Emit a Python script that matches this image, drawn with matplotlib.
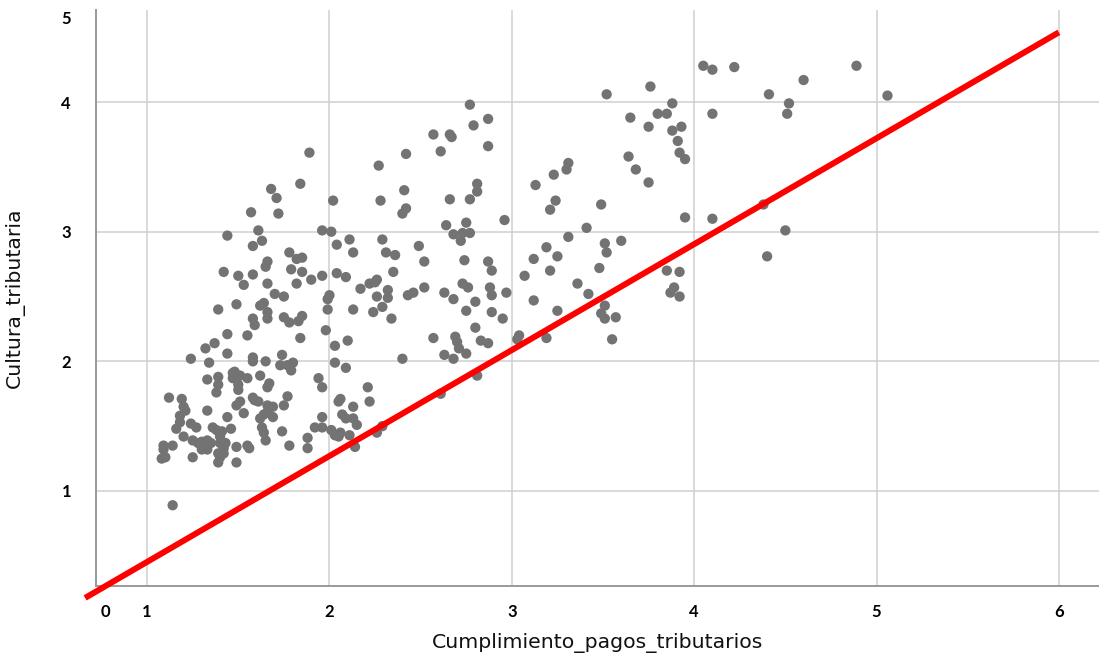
import matplotlib.pyplot as plt

# scatter values
cumplimiento = [
    1.44, 1.55, 1.84, 1.98, 2.03, 1.37, 1.32, 1.24, 1.44, 1.34,
    1.58, 1.58, 1.65, 1.74, 1.73, 1.77, 1.80, 1.79, 2.03, 1.94,
    1.96, 1.39, 1.33, 1.39, 1.38, 1.47, 1.48, 1.51, 1.55, 1.47,
    1.62, 1.67, 1.66, 1.50, 1.50, 1.12, 1.19, 1.20, 1.21, 1.18,
    1.18, 1.16, 1.20, 1.33, 1.51, 1.49, 1.53, 1.58, 1.59, 1.61,
    1.66, 1.69, 1.66, 1.64, 1.62, 1.69, 1.77, 1.75, 1.44, 1.24,
    1.27, 1.36, 1.38, 1.41, 1.40, 1.46, 1.25, 1.28, 1.30, 1.31,
    1.33, 1.35, 1.09, 1.09, 1.08, 1.10, 1.14, 1.25, 1.30, 1.33,
    1.40, 1.42, 1.43, 1.39, 1.40, 1.42, 1.39, 1.49, 1.49, 1.55,
    1.56, 1.63, 1.64, 1.65, 1.74, 1.78, 1.88, 1.88, 1.92, 1.96,
    1.96, 2.01, 2.03, 2.05, 1.14,
    1.89, 1.84, 1.68, 1.71, 2.02, 1.57, 1.72, 1.61, 1.44, 1.96,
    2.01, 1.63, 1.58, 2.04, 1.78, 1.82, 1.85, 1.66, 1.65, 1.42,
    1.50, 1.53, 1.58, 1.66, 1.79, 1.85, 1.82, 1.90, 1.96, 2.04,
    1.70, 1.75, 1.39, 1.49, 1.62, 1.64, 1.66, 1.66, 1.58, 1.59,
    1.75, 1.78, 1.83, 1.85, 1.99, 2.00, 1.99,
    2.77, 2.79, 2.87, 2.57, 2.66, 2.67, 2.87, 2.61, 2.42, 2.27,
    2.28, 2.41, 2.42, 2.40, 2.66, 2.77, 2.81, 2.81, 2.96, 2.64,
    2.75, 2.68, 2.73, 2.77, 2.72, 2.11, 2.13, 2.29, 2.31, 2.36,
    2.49, 2.52, 2.74, 2.87, 2.89, 2.09, 2.26, 2.35,
    2.17, 2.22, 2.25, 2.32, 2.32, 2.26, 2.29, 2.24, 2.13, 2.34,
    2.43, 2.46, 2.52, 2.63, 2.68, 2.73, 2.76, 2.75, 2.80, 2.88,
    2.89, 2.97, 2.89, 2.95, 2.10, 2.09, 2.40, 2.57, 2.69, 2.70,
    2.71, 2.75, 2.63, 2.68, 2.80, 2.83, 2.87, 3.04, 3.03, 2.81,
    2.61, 2.21, 2.22, 2.06, 2.13, 2.07, 2.09, 2.13, 2.15, 2.05,
    2.06, 2.11, 2.14, 2.26, 2.29,
    3.52, 3.88, 3.80, 3.85, 3.65, 3.75, 3.88, 3.93, 3.91, 3.92,
    3.95, 3.64, 3.68, 3.75, 3.31, 3.30, 3.23, 3.13, 3.24, 3.21,
    3.49, 3.95, 3.41, 3.31, 3.51, 3.52, 3.60, 3.19, 3.25, 3.12,
    3.21, 3.48, 3.07, 3.36, 3.85, 3.92, 3.89, 3.87, 3.92, 3.12,
    3.42, 3.25, 3.51, 3.49, 3.51, 3.57, 3.19, 3.55, 3.76,
    4.05, 4.10, 4.22, 4.89, 4.60, 4.41, 4.52, 4.51, 4.10, 5.06,
    4.38, 4.10, 4.50, 4.40,
]
cultura = [
    2.21, 2.20, 2.18, 2.24, 2.12, 2.14, 2.10, 2.02, 2.06, 1.99,
    2.03, 2.00, 2.00, 2.05, 1.97, 1.97, 1.99, 1.93, 1.99, 1.87,
    1.80, 1.88, 1.86, 1.82, 1.76, 1.91, 1.92, 1.89, 1.87, 1.87,
    1.89, 1.83, 1.80, 1.82, 1.78, 1.72, 1.71, 1.65, 1.62, 1.58,
    1.53, 1.48, 1.42, 1.62, 1.69, 1.66, 1.60, 1.72, 1.70, 1.69,
    1.66, 1.65, 1.61, 1.59, 1.56, 1.57, 1.73, 1.66, 1.57, 1.52,
    1.49, 1.49, 1.47, 1.46, 1.42, 1.48, 1.39, 1.37, 1.38, 1.34,
    1.39, 1.37, 1.35, 1.32, 1.25, 1.26, 1.35, 1.26, 1.32, 1.32,
    1.37, 1.33, 1.37, 1.29, 1.26, 1.29, 1.22, 1.22, 1.34, 1.35,
    1.33, 1.49, 1.45, 1.39, 1.46, 1.35, 1.41, 1.33, 1.49, 1.57,
    1.49, 1.47, 1.43, 1.69, 0.89,
    3.61, 3.37, 3.33, 3.26, 3.24, 3.15, 3.14, 3.01, 2.97, 3.01,
    3.00, 2.93, 2.89, 2.90, 2.84, 2.79, 2.80, 2.77, 2.73, 2.69,
    2.66, 2.59, 2.67, 2.60, 2.71, 2.69, 2.60, 2.63, 2.66, 2.68,
    2.52, 2.50, 2.40, 2.44, 2.43, 2.45, 2.38, 2.33, 2.33, 2.28,
    2.34, 2.30, 2.31, 2.35, 2.40, 2.51, 2.48,
    3.98, 3.82, 3.87, 3.75, 3.75, 3.73, 3.66, 3.62, 3.60, 3.51,
    3.24, 3.32, 3.18, 3.14, 3.25, 3.25, 3.37, 3.31, 3.09, 3.05,
    3.07, 2.98, 2.99, 2.99, 2.93, 2.94, 2.84, 2.94, 2.84, 2.82,
    2.89, 2.77, 2.78, 2.77, 2.70, 2.65, 2.63, 2.69,
    2.56, 2.60, 2.61, 2.55, 2.49, 2.50, 2.42, 2.38, 2.40, 2.33,
    2.51, 2.53, 2.57, 2.53, 2.48, 2.60, 2.57, 2.39, 2.46, 2.57,
    2.51, 2.53, 2.38, 2.33, 2.16, 1.95, 2.02, 2.18, 2.19, 2.15,
    2.10, 2.06, 2.05, 2.02, 2.26, 2.16, 2.14, 2.20, 2.17, 1.89,
    1.75, 1.80, 1.69, 1.71, 1.65, 1.59, 1.56, 1.56, 1.51, 1.42,
    1.45, 1.43, 1.34, 1.45, 1.50,
    4.06, 3.99, 3.91, 3.91, 3.88, 3.81, 3.78, 3.81, 3.70, 3.61,
    3.56, 3.58, 3.48, 3.38, 3.53, 3.48, 3.44, 3.36, 3.24, 3.17,
    3.21, 3.11, 3.03, 2.96, 2.91, 2.84, 2.93, 2.88, 2.81, 2.79,
    2.70, 2.72, 2.66, 2.60, 2.70, 2.69, 2.57, 2.53, 2.50, 2.47,
    2.52, 2.39, 2.43, 2.37, 2.33, 2.34, 2.18, 2.17, 4.12,
    4.28, 4.25, 4.27, 4.28, 4.17, 4.06, 3.99, 3.91, 3.91, 4.05,
    3.21, 3.10, 3.01, 2.81,
]

# red reference line y = a + b*x
line_a = -0.364
line_b = 0.817
line_x = [0.66, 6.0]
line_y = [line_a + line_b * v for v in line_x]

x_ticks = [0.77, 1, 2, 3, 4, 5, 6]
x_labels = ['0', '1', '2', '3', '4', '5', '6']
y_ticks = [1, 2, 3, 4, 4.65]
y_labels = ['1', '2', '3', '4', '5']

fig = plt.figure(figsize=(10.99, 6.56), dpi=100)
ax = fig.add_axes([0.0874, 0.1067, 0.9126, 0.878])

ax.scatter(cumplimiento, cultura, s=55, color='#737373', edgecolors='none', zorder=3)
ax.plot(line_x, line_y, color='#ff0000', lw=4.3, solid_capstyle='butt', clip_on=False, zorder=4)

ax.set_xlim(0.72, 6.22)
ax.set_ylim(0.267, 4.71)
ax.set_xticks(x_ticks)
ax.set_xticklabels(x_labels)
ax.set_yticks(y_ticks)
ax.set_yticklabels(y_labels)
ax.tick_params(axis='both', length=0, labelsize=12)
ax.tick_params(axis='x', pad=13)
ax.tick_params(axis='y', pad=18)
for lab in ax.get_xticklabels() + ax.get_yticklabels():
    lab.set_fontfamily('Lato')
    lab.set_fontweight('bold')

ax.grid(True, color='#cfcfcf', lw=1.1, zorder=0)
ax.get_xgridlines()[0].set_visible(False)
ax.get_ygridlines()[-1].set_visible(False)
ax.set_axisbelow(True)

for side in ['top', 'right']:
    ax.spines[side].set_visible(False)
for side in ['left', 'bottom']:
    ax.spines[side].set_color('#9a9a9a')
    ax.spines[side].set_linewidth(1.4)

ax.set_xlabel('Cumplimiento_pagos_tributarios', fontsize=14.7, family='DejaVu Sans',
              color='#111111', labelpad=9)
ax.set_ylabel('Cultura_tributaria', fontsize=14.7, family='DejaVu Sans',
              color='#111111', labelpad=26)

fig.savefig('out.png', dpi=100)
